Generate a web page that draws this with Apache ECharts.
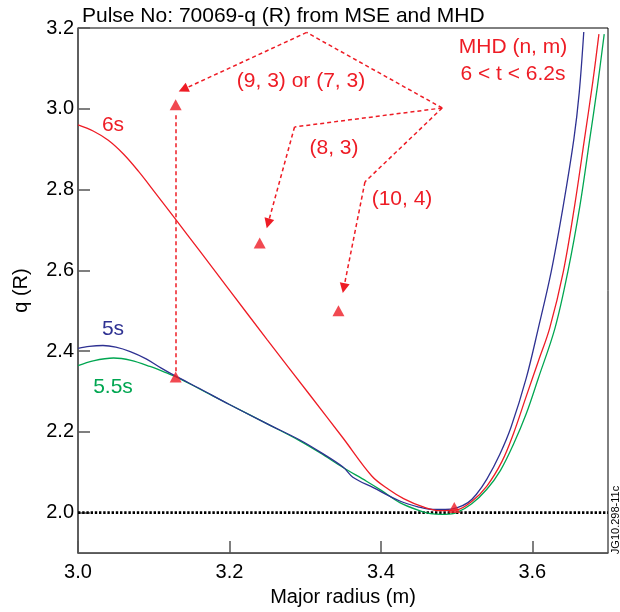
<!DOCTYPE html>
<html><head><meta charset="utf-8">
<script src="https://cdn.jsdelivr.net/npm/echarts@6/dist/echarts.min.js"></script>
<style>html,body{margin:0;padding:0;background:#fff}#c{width:620px;height:612px}</style>
</head><body><div id="c"></div>
<script>
const FONT = '"Liberation Sans", Arial, Helvetica, sans-serif';
const RED = '#ee1c25', BLUE = '#2e3192', GREEN = '#00a651';

const xTicks = [3.0, 3.2, 3.4, 3.6];
const yTicks = [2.0, 2.2, 2.4, 2.6, 2.8, 3.0, 3.2];

// q(R) profiles [R (m), q]
const q6s = [[3.000,2.960],[3.020,2.945],[3.040,2.922],[3.060,2.888],[3.080,2.845],[3.100,2.797],[3.129,2.726],[3.160,2.650],[3.198,2.556],[3.250,2.428],[3.306,2.292],[3.350,2.185],[3.388,2.091],[3.410,2.058],[3.430,2.035],[3.455,2.015],[3.478,2.005],[3.500,2.007],[3.520,2.028],[3.540,2.066],[3.560,2.127],[3.575,2.195],[3.592,2.288],[3.608,2.375],[3.623,2.457],[3.641,2.597],[3.656,2.761],[3.669,2.926],[3.680,3.068],[3.688,3.185]];
const q5s = [[3.000,2.407],[3.015,2.412],[3.033,2.414],[3.050,2.410],[3.069,2.399],[3.090,2.381],[3.110,2.358],[3.129,2.338],[3.160,2.308],[3.200,2.268],[3.250,2.220],[3.293,2.180],[3.320,2.150],[3.350,2.113],[3.363,2.088],[3.390,2.062],[3.425,2.029],[3.450,2.014],[3.469,2.008],[3.485,2.008],[3.500,2.012],[3.515,2.025],[3.526,2.045],[3.540,2.083],[3.557,2.144],[3.572,2.212],[3.592,2.333],[3.608,2.457],[3.625,2.597],[3.641,2.761],[3.655,2.926],[3.662,3.040],[3.668,3.190]];
const q55s = [[3.000,2.364],[3.020,2.376],[3.047,2.383],[3.070,2.377],[3.095,2.362],[3.117,2.346],[3.129,2.337],[3.160,2.307],[3.200,2.268],[3.250,2.220],[3.293,2.178],[3.320,2.148],[3.350,2.112],[3.381,2.078],[3.400,2.056],[3.425,2.025],[3.450,2.006],[3.469,1.997],[3.485,1.996],[3.500,2.000],[3.520,2.022],[3.540,2.058],[3.558,2.105],[3.575,2.169],[3.592,2.245],[3.608,2.333],[3.630,2.457],[3.647,2.597],[3.663,2.761],[3.676,2.926],[3.686,3.055],[3.695,3.185]];

// MHD mode locations (triangles)
const mhdR = [3.129, 3.129, 3.240, 3.344, 3.497];
const mhdQ = [3.010, 2.336, 2.668, 2.500, 2.013];

// q = 2 reference
const q2Line = [[3.0, 2.0], [3.7, 2.0]];

// annotation arrow geometry (data coords)
const hub = [3.481, 3.002];
const apex = [3.302, 3.189];
const tip93 = [3.139, 3.048];
const knee83 = [3.286, 2.955];
const tip83 = [3.251, 2.716];
const knee104 = [3.379, 2.819];
const tip104 = [3.351, 2.556];
const vertLow = [3.129, 2.350];
const vertHigh = [3.129, 2.990];

const chart = echarts.init(document.getElementById('c'), null, {renderer: 'canvas'});
const axisGray = '#555';
const txt = (x, y, text, opts) => Object.assign({
  type: 'text', x: x, y: y,
  style: Object.assign({text: text, fill: RED, font: '21px ' + FONT, textAlign: 'center', textVerticalAlign: 'middle'}, opts || {})
});

chart.setOption({
  animation: false,
  backgroundColor: '#fff',
  grid: {left: 78, right: 12, top: 28, bottom: 56, show: true, borderColor: '#000', borderWidth: 1, backgroundColor: 'transparent'},
  xAxis: {
    type: 'value', min: 3.0, max: 3.7,
    name: 'Major radius (m)', nameLocation: 'middle', nameGap: 31,
    nameTextStyle: {fontSize: 20, color: '#000', fontFamily: FONT},
    axisLine: {show: true, lineStyle: {color: axisGray, width: 1.5}},
    axisTick: {show: true, inside: true, length: 12, customValues: xTicks, lineStyle: {color: axisGray, width: 1.5}},
    axisLabel: {customValues: xTicks, formatter: v => v.toFixed(1), fontSize: 20, color: '#000', fontFamily: FONT, margin: 9},
    splitLine: {show: false}
  },
  yAxis: {
    type: 'value', min: 1.9, max: 3.2,
    name: 'q (R)', nameLocation: 'middle', nameGap: 47, nameRotate: 90,
    nameTextStyle: {fontSize: 20, color: '#000', fontFamily: FONT},
    axisLine: {show: true, lineStyle: {color: axisGray, width: 1.5}},
    axisTick: {show: true, inside: true, length: 12, customValues: yTicks, lineStyle: {color: axisGray, width: 1.5}},
    axisLabel: {customValues: yTicks, formatter: v => v.toFixed(1), fontSize: 20, color: '#000', fontFamily: FONT, margin: 4},
    splitLine: {show: false}
  },
  series: [
    {type: 'line', data: q2Line, symbol: 'none', silent: true, z: 1,
     lineStyle: {color: '#000', width: 2.8, type: [2.4, 1.8]}},
    {type: 'line', name: '5.5s', data: q55s, symbol: 'none', smooth: 0.35, z: 2,
     lineStyle: {color: GREEN, width: 1.3}},
    {type: 'line', name: '5s', data: q5s, symbol: 'none', smooth: 0.35, z: 3,
     lineStyle: {color: BLUE, width: 1.3}},
    {type: 'line', name: '6s', data: q6s, symbol: 'none', smooth: 0.35, z: 4,
     lineStyle: {color: RED, width: 1.3}},
    {type: 'lines', coordinateSystem: 'cartesian2d', z: 5, symbol: 'none',
     lineStyle: {color: RED, width: 1.5, type: [4, 3], opacity: 1},
     data: [
       {coords: [hub, apex]},
       {coords: [hub, knee83]},
       {coords: [hub, knee104]},
       {coords: [vertLow, vertHigh]}
     ]},
    {type: 'lines', coordinateSystem: 'cartesian2d', z: 5, symbol: ['none', 'triangle'], symbolSize: [0, 10],
     lineStyle: {color: RED, width: 1.5, type: [4, 3], opacity: 1},
     itemStyle: {color: RED},
     data: [
       {coords: [apex, tip93]},
       {coords: [knee83, tip83]},
       {coords: [knee104, tip104]}
     ]},
    {type: 'scatter', z: 6, symbol: 'triangle', symbolSize: [12, 11],
     itemStyle: {color: RED},
     data: mhdR.map((r, i) => [r, mhdQ[i]])}
  ],
  graphic: [
    txt(82, 16, 'Pulse No: 70069-q (R) from MSE and MHD', {fill: '#000', textAlign: 'left'}),
    txt(513, 47, 'MHD (n, m)'),
    txt(513, 74, '6 < t < 6.2s'),
    txt(301, 81, '(9, 3) or (7, 3)'),
    txt(334, 148, '(8, 3)'),
    txt(402, 199, '(10, 4)'),
    txt(113, 125, '6s'),
    txt(113, 329, '5s', {fill: BLUE}),
    txt(113, 387, '5.5s', {fill: GREEN}),
    {type: 'text', x: 616, y: 520, rotation: Math.PI / 2,
     style: {text: 'JG10.298-11c', fill: '#000', font: '11px ' + FONT, textAlign: 'center', textVerticalAlign: 'middle'}}
  ]
});
</script>
</body></html>
